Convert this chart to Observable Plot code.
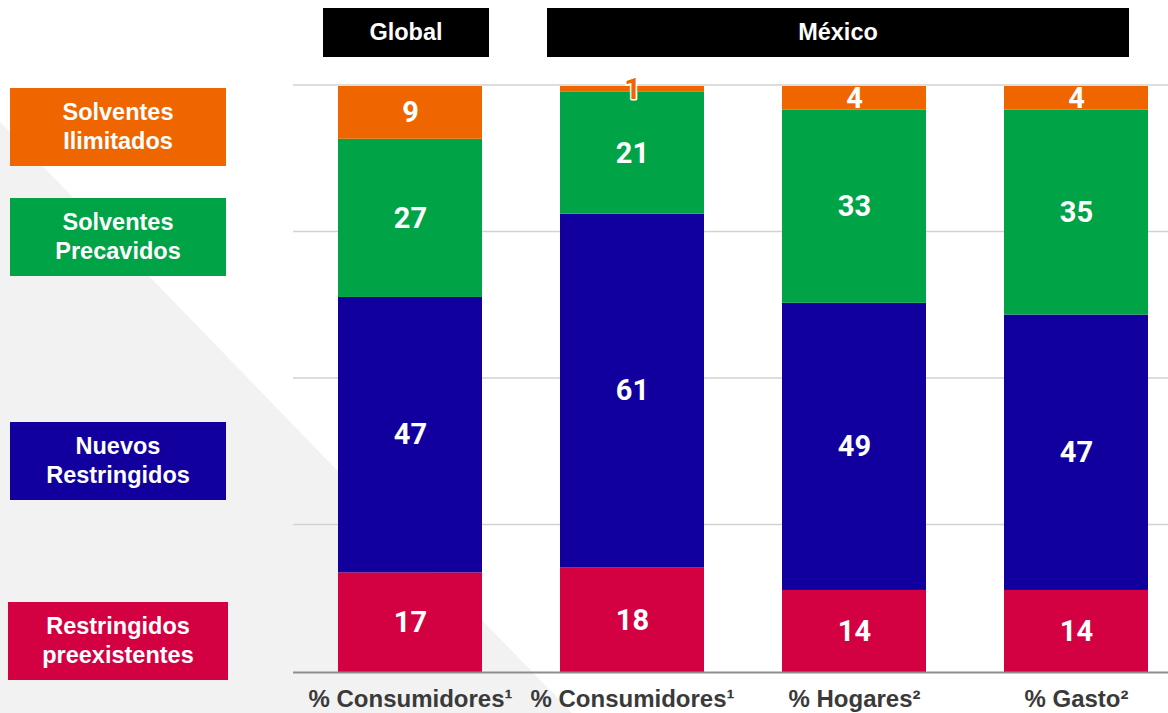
<!DOCTYPE html>
<html>
<head>
<meta charset="utf-8">
<script src="https://cdn.jsdelivr.net/npm/d3@7"></script>
<script src="https://cdn.jsdelivr.net/npm/@observablehq/plot@0.6"></script>
<style>
  html, body { margin: 0; padding: 0; background: #fff; }
  #page { position: relative; width: 1168px; height: 713px; overflow: hidden; background: #fff; font-family: "Liberation Sans", Arial, sans-serif; }
  #bg { position: absolute; left: 0; top: 0; width: 1168px; height: 713px; background: #f2f2f2; clip-path: polygon(0px 122px, 572px 713px, 0px 713px); }
  #chart { position: absolute; left: 0; top: 0; }
  .box { position: absolute; display: flex; align-items: center; justify-content: center; text-align: center; color: #fff; font-weight: bold; font-size: 23.5px; line-height: 29px; }
</style>
</head>
<body>
<div id="page">
  <div id="bg"></div>
  <div id="chart"></div>
</div>
<script>
// ---- data ----
const barIds = ["global_cons", "mx_cons", "mx_hog", "mx_gasto"];
const barLabels = ["% Consumidores¹", "% Consumidores¹", "% Hogares²", "% Gasto²"];
const groups = ["Global", "México"];
const segments = ["Restringidos preexistentes", "Nuevos Restringidos", "Solventes Precavidos", "Solventes Ilimitados"];
const legendLines = [["Restringidos", "preexistentes"], ["Nuevos", "Restringidos"], ["Solventes", "Precavidos"], ["Solventes", "Ilimitados"]];
const segmentColors = ["#d30042", "#12009e", "#00a346", "#ef6500"];
const restringidosPreexistentes = [17, 18, 14, 14];
const nuevosRestringidos = [47, 61, 49, 47];
const solventesPrecavidos = [27, 21, 33, 35];
const solventesIlimitados = [9, 1, 4, 4];
const gridTicks = [0.25, 0.5, 0.75, 1];

// ---- build table ----
const seriesValues = [restringidosPreexistentes, nuevosRestringidos, solventesPrecavidos, solventesIlimitados];
const rows = [];
segments.forEach((s, si) => {
  barIds.forEach((b, bi) => {
    rows.push({bar: b, segment: s, value: seriesValues[si][bi]});
  });
});
const labelOf = Object.fromEntries(barIds.map((b, i) => [b, barLabels[i]]));

const stackOpts = {x: "bar", y: "value", z: "segment", offset: "normalize"};

const chart = Plot.plot({
  width: 1168,
  height: 713,
  marginLeft: 293,
  marginRight: 0,
  marginTop: 86,
  marginBottom: 41,
  style: {background: "transparent", overflow: "visible"},
  x: {type: "band", domain: barIds, range: [293, 1192], paddingInner: 0.352, paddingOuter: 0.198},
  y: {domain: [0, 1], axis: null},
  color: {domain: segments, range: segmentColors},
  marks: [
    Plot.ruleY(gridTicks, {stroke: "#d2d2d2", strokeWidth: 1.5, dy: -1.5}),
    Plot.barY(rows, Plot.stackY({...stackOpts, fill: "segment"})),
    Plot.ruleY([0], {stroke: "#8e8e8e", strokeWidth: 2}),
    Plot.text(rows, Plot.stackY({...stackOpts, text: d => d.value >= 2 ? String(d.value) : "",
      fill: "white", fontFamily: "Roboto", fontWeight: "bold", fontSize: 29})),
    Plot.text(rows, Plot.stackY({...stackOpts, text: d => d.value < 2 ? String(d.value) : "",
      fill: segmentColors[3], stroke: "white", strokeWidth: 3, paintOrder: "stroke",
      fontFamily: "Roboto", fontWeight: "bold", fontSize: 29})),
    Plot.axisX({tickSize: 0, tickPadding: 17, tickFormat: d => labelOf[d], fontSize: 24,
      fontWeight: "bold", fontFamily: "Liberation Sans, Arial, sans-serif", fill: "#3a3a3a", label: null})
  ]
});
document.getElementById("chart").appendChild(chart);

// ---- headers and legend boxes (HTML) ----
const page = document.getElementById("page");
const headerBoxes = [
  {text: groups[0], left: 323, top: 8, width: 166, height: 49},
  {text: groups[1], left: 547, top: 8, width: 582, height: 49}
];
headerBoxes.forEach(h => {
  const d = document.createElement("div");
  d.className = "box";
  Object.assign(d.style, {left: h.left + "px", top: h.top + "px", width: h.width + "px", height: h.height + "px", background: "#000"});
  d.textContent = h.text;
  page.appendChild(d);
});
const legendBoxes = [
  {left: 8, top: 602, width: 220, height: 78},
  {left: 10, top: 422, width: 216, height: 78},
  {left: 10, top: 198, width: 216, height: 78},
  {left: 10, top: 88, width: 216, height: 78}
];
legendBoxes.forEach((b, i) => {
  const d = document.createElement("div");
  d.className = "box";
  Object.assign(d.style, {left: b.left + "px", top: b.top + "px", width: b.width + "px", height: b.height + "px", background: segmentColors[i]});
  d.innerHTML = legendLines[i].join("<br>");
  page.appendChild(d);
});
</script>
</body>
</html>
